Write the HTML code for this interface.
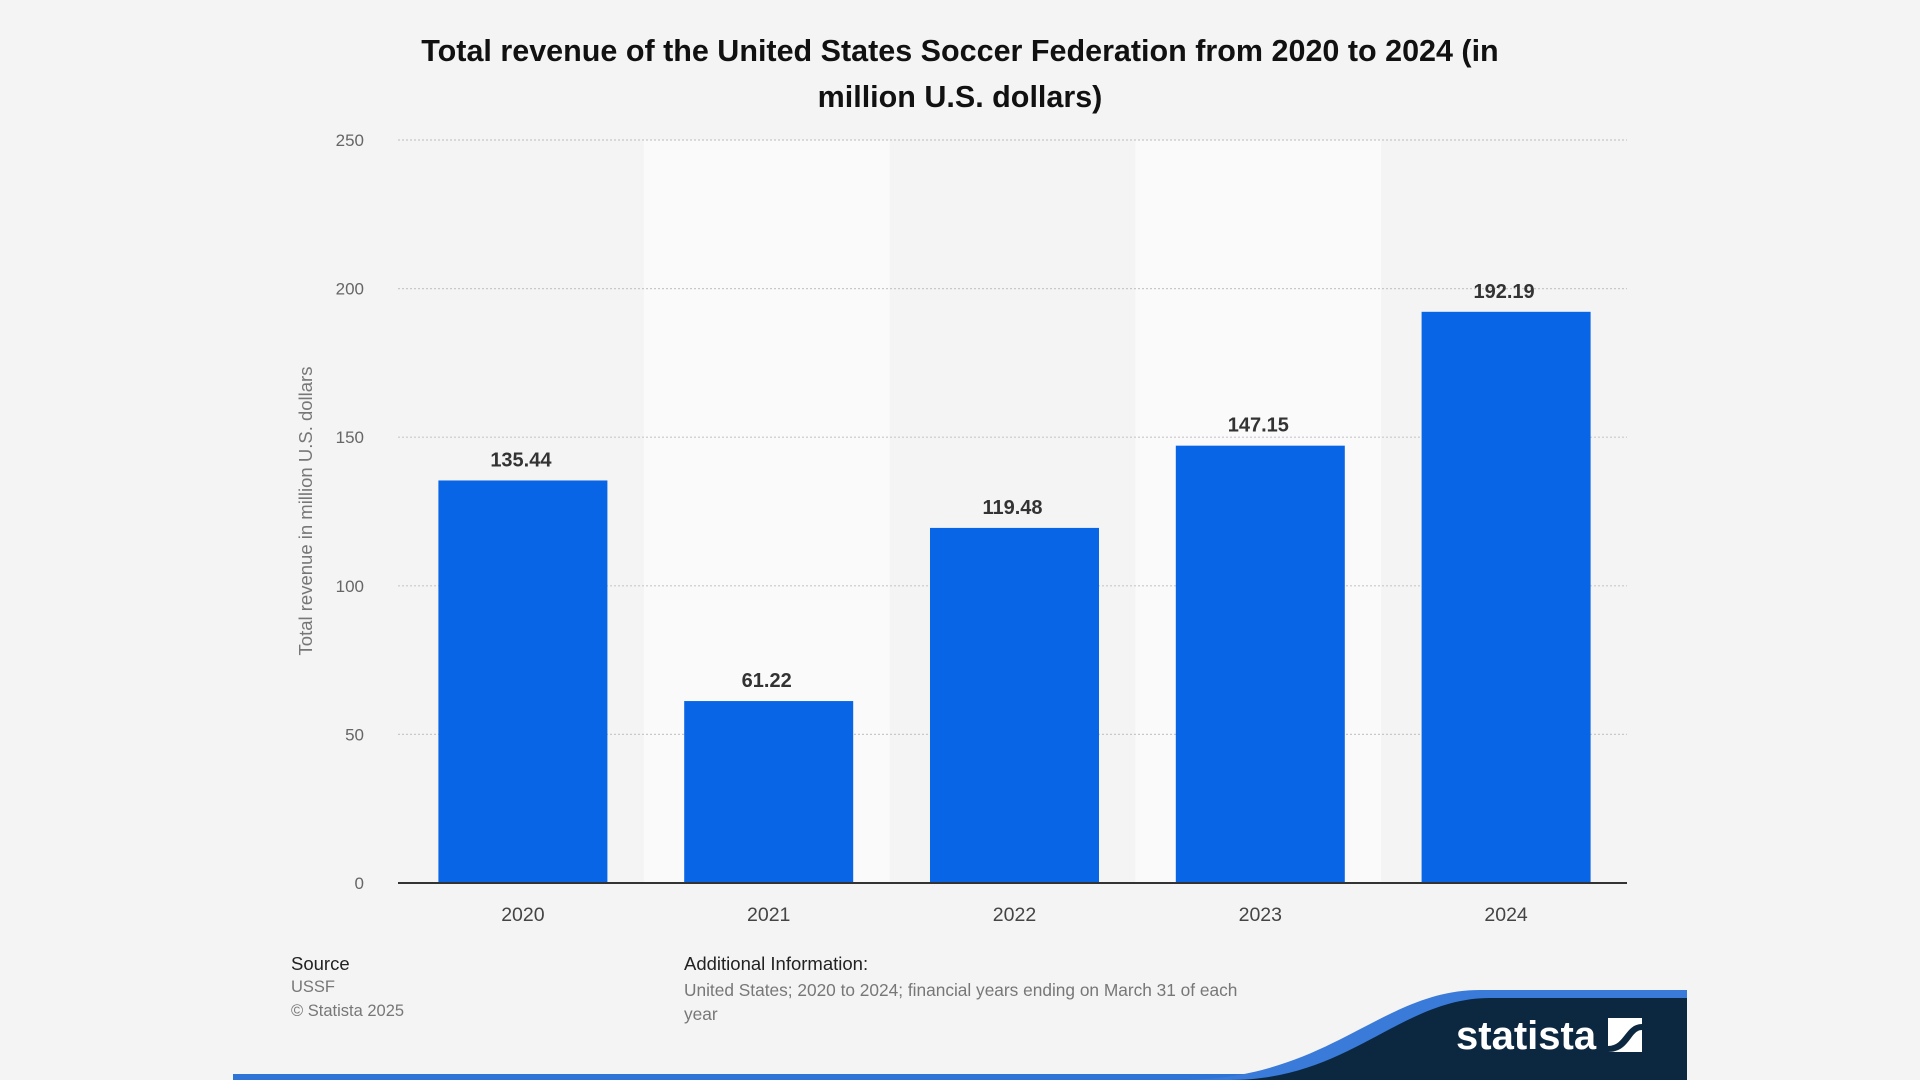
<!DOCTYPE html>
<html><head><meta charset="utf-8">
<style>
html,body{margin:0;padding:0;background:#f4f4f4;}
body{width:1920px;height:1080px;position:relative;overflow:hidden;font-family:"Liberation Sans",Arial,sans-serif;}
.t{position:absolute;white-space:nowrap;}
</style></head>
<body>
<div class="t" style="left:0;width:1920px;top:28px;text-align:center;font-weight:bold;font-size:30.5px;line-height:46px;color:#111;">Total revenue of the United States Soccer Federation from 2020 to 2024 (in<br>million U.S. dollars)</div>
<svg id="chart" width="1920" height="1080" style="position:absolute;left:0;top:0;"></svg>
<div class="t" style="left:291px;top:953px;font-size:18.5px;color:#222;">Source</div>
<div class="t" style="left:291px;top:978px;font-size:16.5px;color:#777;">USSF</div>
<div class="t" style="left:291px;top:1002px;font-size:16.5px;color:#777;">© Statista 2025</div>
<div class="t" style="left:684px;top:953px;font-size:18.5px;color:#222;">Additional Information:</div>
<div class="t" style="left:684px;top:978px;font-size:17.3px;line-height:24px;color:#777;">United States; 2020 to 2024; financial years ending on March 31 of each<br>year</div>
<svg width="1920" height="1080" style="position:absolute;left:0;top:0;">
<rect x="233" y="1074" width="1454" height="6" fill="#2e74d6"/>
<path d="M1180,1080 C1330,1080 1380,990 1480,990 L1687,990 L1687,1080 Z" fill="#3a7bd9"/>
<path d="M1230,1080 C1350,1080 1400,998 1490,998 L1687,998 L1687,1080 Z" fill="#0c2840"/>
<text x="1456" y="1049" font-family="Liberation Sans, sans-serif" font-weight="bold" font-size="40" fill="#fff">statista</text>
<rect x="1608" y="1018" width="34" height="34" fill="#fff"/>
<path d="M1608,1046 C1625,1046 1625,1024 1642,1024 L1642,1030 C1630,1030 1630,1052 1608,1052 Z" fill="#0c2840"/>
</svg>
<script>
const categories=["2020","2021","2022","2023","2024"];
const values=[135.44,61.22,119.48,147.15,192.19];
const valueLabels=["135.44","61.22","119.48","147.15","192.19"];
const yTicks=[0,50,100,150,200,250];
const NS="http://www.w3.org/2000/svg";
const svg=document.getElementById('chart');
const L=398,R=1627,T=140,B=883,YMAX=250;
const step=(R-L)/categories.length, bw=169;
function y(v){return B-(v/YMAX)*(B-T);}
function x(i){return L+step*i;}
function mk(tag,attrs){const e=document.createElementNS(NS,tag);for(const k in attrs)e.setAttribute(k,attrs[k]);svg.appendChild(e);return e;}
categories.forEach((c,i)=>{if(i%2===1){const b=mk('rect',{x:x(i),y:T,width:step,height:B-T,fill:'#fafafa'});

}});
yTicks.forEach(t=>{
 if(t>0){const g=mk('line',{x1:L,x2:R,y1:y(t),y2:y(t),stroke:'#c8c8c8','stroke-width':1.2,'stroke-dasharray':'2,2'});
 
 }
 const tx=mk('text',{x:364,y:y(t)+6,'text-anchor':'end','font-size':17,fill:'#666','font-family':'Liberation Sans, sans-serif'});
 tx.textContent=t;
 
 
});
categories.forEach((c,i)=>{
 const cx=x(i)+step/2+2;
 const r=mk('rect',{x:cx-bw/2,y:y(values[i]),width:bw,height:B-y(values[i]),fill:'#0866e6'});
 
 
 const v=mk('text',{x:cx-2,y:y(values[i])-14,'text-anchor':'middle','font-size':20,'font-weight':'bold',fill:'#333','font-family':'Liberation Sans, sans-serif'});
 v.textContent=valueLabels[i];
 
 
 const xl=mk('text',{x:cx,y:921,'text-anchor':'middle','font-size':19.5,fill:'#444','font-family':'Liberation Sans, sans-serif'});
 xl.textContent=c;
 
 
});
const ax=mk('line',{x1:L,x2:R,y1:B,y2:B,stroke:'#333','stroke-width':2});


const yt=mk('text',{x:0,y:0,'text-anchor':'middle','font-size':18.5,fill:'#777','font-family':'Liberation Sans, sans-serif',transform:'translate(312,511) rotate(-90)'});
yt.textContent='Total revenue in million U.S. dollars';


</script>
</body></html>
